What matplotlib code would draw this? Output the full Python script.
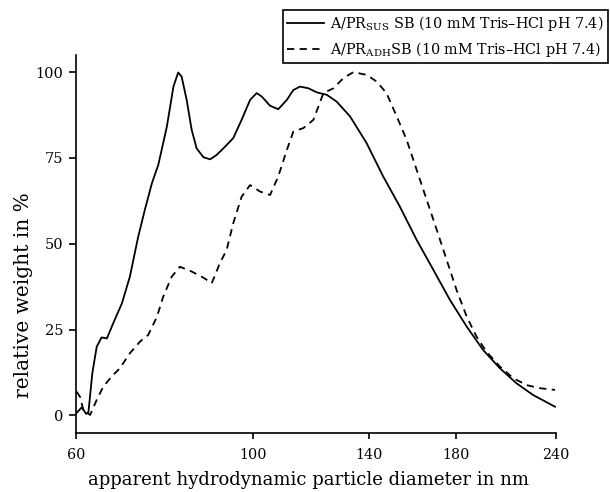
import matplotlib
matplotlib.use('Agg')
import matplotlib.pyplot as plt
from matplotlib.ticker import FixedLocator, NullLocator, FixedFormatter

plt.rcParams['font.family'] = ['DejaVu Serif']

# A/PR SUS, solid line
sus_d = [60.1, 61.0, 61.8, 62.2, 62.9, 63.7, 64.6, 65.6, 66.8, 68.5, 70.1, 71.8, 73.2,
         74.7, 76.1, 78.0, 79.5, 80.6, 81.4, 82.6, 83.8, 85.0, 86.7, 88.4, 90.1, 92.3,
         94.5, 96.8, 99.2, 101.1, 102.6, 105.1, 107.6, 110.3, 112.4, 114.6, 117.4, 120.3,
         123.8, 127.4, 132.4, 138.9, 145.7, 152.9, 160.5, 168.4, 176.7, 185.5, 194.5,
         204.1, 214.2, 224.7, 239.3]
sus_w = [0.7, 2.3, 0.4, 1.0, 12.3, 20.0, 22.7, 22.4, 26.8, 32.6, 40.4, 52.0, 59.9,
         67.6, 73.0, 84.1, 95.8, 99.9, 98.7, 91.9, 83.2, 77.8, 75.2, 74.6, 75.9, 78.3,
         80.8, 86.1, 91.9, 93.9, 92.9, 90.2, 89.2, 91.9, 94.8, 95.8, 95.3, 94.1,
         93.4, 91.4, 87.1, 79.3, 69.6, 60.8, 51.1, 42.4, 33.6, 25.8, 19.0,
         13.7, 9.3, 5.9, 2.5]

# A/PR ADH, dashed line
adh_d = [60.1, 60.7, 61.3, 62.5, 63.7, 64.9, 66.5, 68.1, 70.1, 72.2, 73.9, 75.8, 77.2,
         79.1, 81.0, 83.8, 86.7, 88.8, 90.9, 92.7, 94.5, 96.8, 99.2, 102.1, 105.1, 107.6,
         110.3, 112.4, 115.7, 119.1, 122.6, 126.2, 129.9, 133.7, 138.9, 142.9, 147.1,
         151.5, 155.9, 160.5, 165.2, 170.1, 175.0, 180.1, 185.5, 190.8, 196.4, 204.1,
         212.2, 220.5, 229.1, 239.3]
adh_w = [6.9, 5.4, 1.5, 0.1, 4.5, 8.3, 11.3, 13.7, 18.1, 21.5, 23.4, 28.7, 34.6,
         40.4, 43.3, 41.9, 40.1, 38.5, 44.3, 48.2, 56.0, 63.7, 67.1, 65.2, 64.2, 69.6,
         77.3, 82.7, 83.7, 86.1, 93.9, 95.3, 98.3, 100.0, 99.2, 97.3, 93.9,
         87.1, 80.3, 71.5, 62.8, 54.0, 45.3, 36.5, 28.7, 22.9, 18.5, 14.2,
         10.8, 8.8, 7.9, 7.4]

x_ticks = [60, 100, 140, 180, 240]
y_ticks = [0, 25, 50, 75, 100]

fig = plt.figure(figsize=(6.1, 4.92), dpi=100)
ax = fig.add_axes([76 / 610, 1 - 432.7 / 492, 480 / 610, (432.7 - 55) / 492])

ax.plot(sus_d, sus_w, color='black', linewidth=1.3,
        label='A/PR$_{\\mathregular{SUS}}$ SB (10 mM Tris\u2013HCl pH 7.4)')
ax.plot(adh_d, adh_w, color='black', linewidth=1.3, dashes=(4, 3),
        label='A/PR$_{\\mathregular{ADH}}$SB (10 mM Tris\u2013HCl pH 7.4)')

ax.set_xscale('log')
ax.set_xlim(60, 240)
ax.set_ylim(-5.07, 105)
ax.xaxis.set_major_locator(FixedLocator(x_ticks))
ax.xaxis.set_major_formatter(FixedFormatter([str(t) for t in x_ticks]))
ax.xaxis.set_minor_locator(NullLocator())
ax.set_yticks(y_ticks)

for side in ['top', 'right']:
    ax.spines[side].set_visible(False)
for side in ['left', 'bottom']:
    ax.spines[side].set_linewidth(1.2)
ax.tick_params(axis='both', direction='out', width=1.2, colors='black')
ax.tick_params(axis='y', length=5, pad=4, labelsize=10.5)
ax.tick_params(axis='x', length=4, pad=7, labelsize=10.3)

ax.set_xlabel('apparent hydrodynamic particle diameter in nm', fontsize=13)
ax.xaxis.set_label_coords((308 - 76) / 480, -0.102)
ax.set_ylabel('relative weight in %', fontsize=14.5)
ax.yaxis.set_label_coords(-0.09, (432.7 - 295) / 377.7)

leg = ax.legend(loc='upper right', bbox_to_anchor=(608 / 610, 1 - 10 / 492),
                bbox_transform=fig.transFigure, borderaxespad=0, fontsize=10.4,
                handlelength=2.6, handletextpad=0.4, fancybox=False, framealpha=1,
                edgecolor='black', borderpad=0.3, labelspacing=0.45)
leg.get_frame().set_linewidth(1.2)

fig.savefig('out.png', dpi=100)
